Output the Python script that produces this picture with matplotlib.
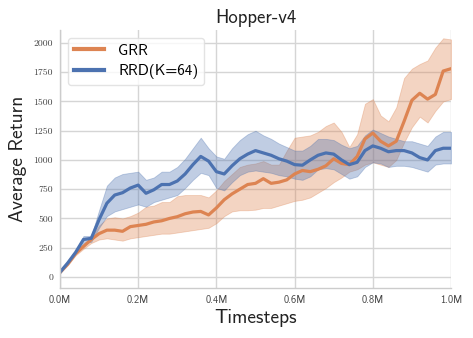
import numpy as np
import matplotlib
matplotlib.use("Agg")
import matplotlib.pyplot as plt

plt.rcParams["axes.unicode_minus"] = False

timesteps = np.round(np.arange(0, 1.0001, 0.02), 2) * 1e6

rrd_mean = [40, 120, 210, 320, 330, 490, 630, 700, 720, 760, 785, 715, 745, 790, 790, 820, 880,
            960, 1030, 990, 900, 880, 950, 1010, 1050, 1080, 1060, 1040, 1010, 990, 960, 955,
            1000, 1040, 1060, 1050, 1000, 960, 980, 1080, 1120, 1100, 1070, 1080, 1080, 1060,
            1020, 1000, 1080, 1100, 1100]
rrd_low = [30, 110, 195, 290, 300, 420, 520, 560, 580, 600, 620, 600, 640, 660, 680, 700, 760,
           830, 890, 870, 760, 740, 810, 870, 900, 910, 900, 890, 870, 860, 840, 830, 860, 920,
           930, 920, 880, 840, 860, 940, 980, 970, 940, 950, 950, 940, 920, 900, 960, 970, 970]
rrd_high = [50, 130, 225, 350, 350, 570, 780, 850, 880, 890, 900, 830, 850, 900, 900, 940, 1010,
            1100, 1190, 1100, 1030, 1010, 1100, 1170, 1220, 1250, 1210, 1180, 1140, 1110, 1080,
            1080, 1120, 1180, 1180, 1170, 1130, 1100, 1120, 1210, 1260, 1230, 1200, 1180, 1160,
            1160, 1140, 1120, 1200, 1240, 1240]

grr_mean = [40, 110, 200, 260, 320, 370, 400, 400, 390, 430, 440, 450, 470, 480, 500, 515, 540,
            555, 560, 530, 590, 660, 710, 750, 790, 800, 840, 800, 810, 830, 880, 910, 900, 920,
            950, 1010, 970, 960, 1030, 1180, 1230, 1160, 1120, 1160, 1330, 1510, 1570, 1520,
            1560, 1760, 1780]
grr_low = [30, 100, 185, 240, 290, 320, 330, 320, 310, 330, 340, 350, 360, 370, 370, 380, 390,
           400, 410, 420, 460, 520, 560, 570, 570, 575, 590, 590, 610, 630, 650, 660, 680, 720,
           760, 810, 850, 900, 920, 960, 980, 960, 940, 1000, 1150, 1280, 1370, 1320, 1420,
           1500, 1520]
grr_high = [50, 120, 215, 280, 340, 440, 500, 510, 500, 520, 550, 600, 610, 640, 640, 690, 700,
            700, 700, 680, 740, 820, 880, 940, 960, 970, 990, 960, 960, 1080, 1190, 1200, 1210,
            1240, 1290, 1320, 1240, 1110, 1220, 1480, 1520, 1380, 1330, 1450, 1700, 1780, 1820,
            1850, 1960, 2040, 2030]

xtick_vals = [0, 0.2e6, 0.4e6, 0.6e6, 0.8e6, 1.0e6]
xtick_labels = ["0.0M", "0.2M", "0.4M", "0.6M", "0.8M", "1.0M"]
ytick_vals = [0, 250, 500, 750, 1000, 1250, 1500, 1750, 2000]

orange = "#dd8452"
blue = "#4c72b0"
SANS = ["cmss10", "DejaVu Sans"]

fig = plt.figure(figsize=(4.73, 3.38), dpi=100)
ax = fig.add_axes([0.1268, 0.1488, 0.8267, 0.7622])

ax.fill_between(timesteps, grr_low, grr_high, color=orange, alpha=0.35, linewidth=0.6,
                edgecolor=orange)
ax.fill_between(timesteps, rrd_low, rrd_high, color=blue, alpha=0.35, linewidth=0.6,
                edgecolor=blue)
ax.plot(timesteps, grr_mean, color=orange, lw=2.3, label="GRR")
ax.plot(timesteps, rrd_mean, color=blue, lw=2.3, label="RRD(K=64)")

ax.set_xlim(0, 1.0e6)
ax.set_ylim(-92, 2110)
ax.set_xticks(xtick_vals)
ax.set_xticklabels(xtick_labels, fontsize=7.5, color="#444444", fontfamily=SANS)
ax.set_yticks(ytick_vals)
ax.set_yticklabels([str(v) for v in ytick_vals], fontsize=7, color="#444444",
                   fontfamily="cmr10")
ax.tick_params(length=0, pad=5)

ax.grid(True, color="#d5d5d5", lw=1.0)
ax.set_axisbelow(True)
for s in ["top", "right"]:
    ax.spines[s].set_visible(False)
for s in ["left", "bottom"]:
    ax.spines[s].set_color("#cccccc")
    ax.spines[s].set_linewidth(1.0)

ax.set_title("Hopper-v4", fontsize=13.5, color="#222222", pad=5, fontfamily=SANS)
ax.set_xlabel("Timesteps", fontsize=14, color="#222222", labelpad=3, fontfamily=SANS)
ax.set_ylabel("Average Return", fontsize=14, color="#222222", labelpad=5, fontfamily=SANS)

leg = ax.legend(loc="upper left", frameon=True, handlelength=2.0, handletextpad=0.9,
                borderaxespad=0.5, labelspacing=0.4,
                prop={"family": SANS, "size": 11})
leg.get_frame().set_edgecolor("#dddddd")
for line in leg.get_lines():
    line.set_linewidth(3)

fig.savefig("out.png", dpi=100)
